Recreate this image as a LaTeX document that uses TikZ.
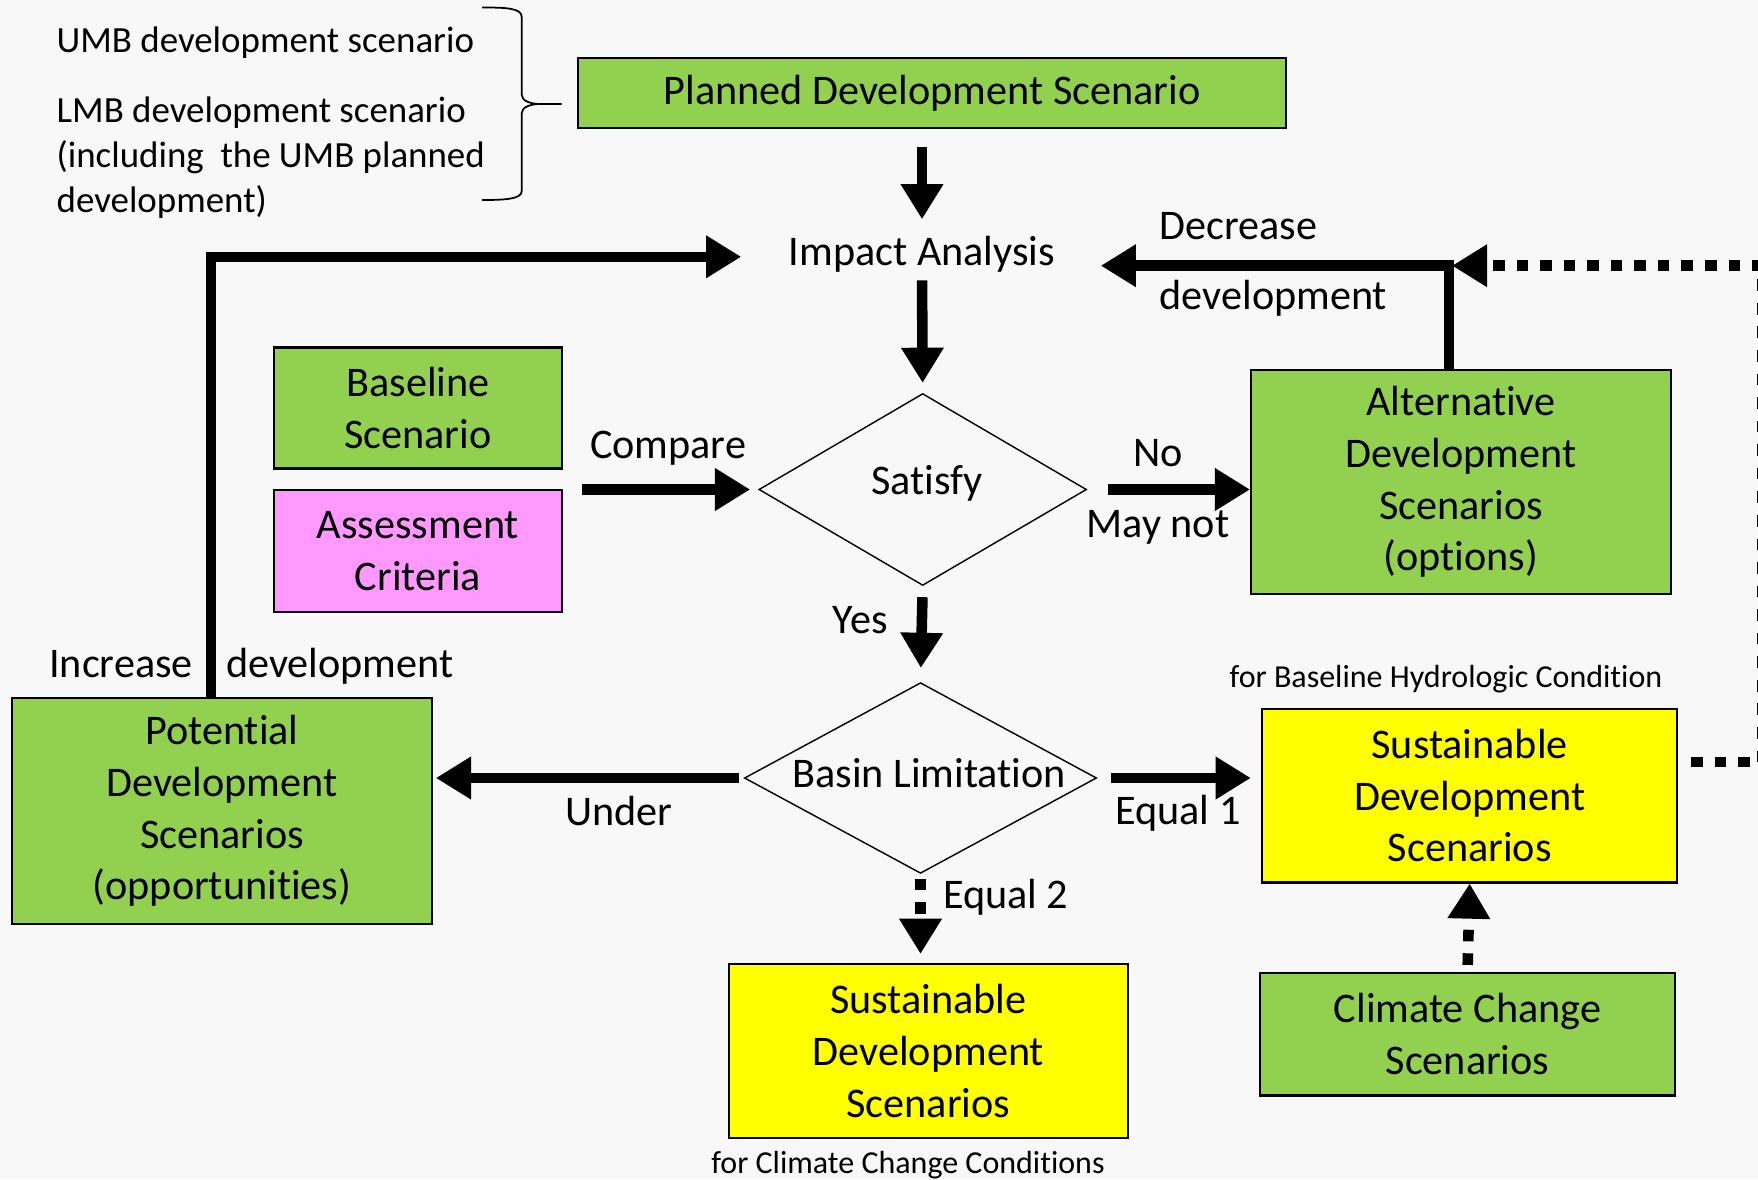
\documentclass[tikz,border=0pt]{standalone}
\usepackage{fontspec}
\setmainfont{Carlito}[Ligatures={NoCommon,NoContextual},RawFeature={-clig}]
\usetikzlibrary{arrows.meta,shapes.geometric}
\definecolor{boxgreen}{HTML}{92D050}
\definecolor{boxpink}{HTML}{FF99FF}
\definecolor{boxyellow}{HTML}{FFFF00}
\definecolor{paper}{HTML}{F8F8F8}

\begin{document}
\begin{tikzpicture}[x=0.01cm,y=-0.01cm,
  box/.style={draw=black,line width=0.6pt,inner sep=0pt,align=center,font=\fontsize{12}{14.7}\selectfont},
  greenbox/.style={box,fill=boxgreen},
  yellowbox/.style={box,fill=boxyellow},
  pinkbox/.style={box,fill=boxpink},
  decide/.style={diamond,draw=black,line width=0.4pt,inner sep=0pt,font=\fontsize{12}{14.7}\selectfont},
  lbl/.style={inner sep=0pt,text height=9pt,text depth=2.5pt,font=\fontsize{12}{14.7}\selectfont},
  side/.style={inner sep=0pt,font=\fontsize{10.5}{12.8}\selectfont},
  note/.style={inner sep=0pt,font=\fontsize{9.1}{11}\selectfont},
  arr/.style={line width=3pt,-{Triangle[length=10pt,width=11.5pt]}},
  dotarr/.style={arr,dash pattern=on 3.3pt off 3.4pt}]
\path[use as bounding box,fill=paper] (0,0) rectangle (1758,1179);

\node[side,anchor=west] (umb) at (56,43) {UMB development scenario};
\node[side,anchor=west,align=left] (lmb) at (56,158) {LMB development scenario\\(including\ \ the UMB planned\\development)};
\draw[line width=0.5pt] (482,7.5) .. controls (506,7.5) and (521.7,8) .. (521.7,17) -- (521.7,95)
  .. controls (521.7,101) and (531,104) .. (540,104) -- (561.7,104)
  (540,104) .. controls (531,104) and (521.7,107) .. (521.7,113) -- (521.7,191)
  .. controls (521.7,199) and (506,200) .. (482,200);

\node[greenbox,minimum width=7.075cm,minimum height=0.695cm] (plan) at (932,93) {Planned Development Scenario};
\node[lbl] (impact) at (922,254.5) {Impact Analysis};
\node[decide,minimum width=3.275cm,minimum height=1.918cm] (satisfy) at (922.7,489.5) {\makebox[0pt]{\hspace*{2.6pt}\raisebox{5.4pt}{Satisfy}}};
\node[greenbox,minimum width=2.87cm,minimum height=1.21cm] (base) at (418,408) {Baseline\\Scenario};
\node[pinkbox,minimum width=2.87cm,minimum height=1.22cm] (assess) at (418,551) {Assessment\\Criteria};
\node[greenbox,minimum width=4.196cm,minimum height=2.24cm] (alt) at (1461,482) {Alternative\\Development\\Scenarios\\(options)};
\node[greenbox,minimum width=4.194cm,minimum height=2.255cm] (pot) at (222,811) {Potential\\Development\\Scenarios\\(opportunities)};
\node[decide,minimum width=3.52cm,minimum height=1.906cm] (basin) at (920.5,778) {\makebox[0pt]{\hspace*{5pt}\raisebox{2.6pt}{Basin Limitation}}};
\node[yellowbox,minimum width=4.145cm,minimum height=1.738cm] (sus1) at (1469.7,795.5) {Sustainable\\Development\\Scenarios};
\node[greenbox,minimum width=4.15cm,minimum height=1.224cm] (climate) at (1467.5,1034.2) {Climate Change\\Scenarios};
\node[yellowbox,minimum width=3.992cm,minimum height=1.74cm] (sus2) at (928.4,1051) {Sustainable\\Development\\Scenarios};

\node[note] (forbase) at (1446,679.4) {for Baseline Hydrologic Condition};
\node[note] (forclim) at (908,1165) {for Climate Change Conditions};
\node[lbl] (cmp) at (668,447) {Compare};
\node[lbl] (no) at (1158,455) {No};
\node[lbl] (maynot) at (1158,526) {May not};
\node[lbl,anchor=west] (decr) at (1159,227.6) {Decrease};
\node[lbl,anchor=west] (decdev) at (1159,298) {development};
\node[lbl] (yes) at (860,622) {Yes};
\node[lbl] (under) at (619,814) {Under};
\node[lbl] (eq1) at (1178,813) {Equal 1};
\node[lbl] (eq2) at (1005.7,897) {Equal 2};
\node[lbl] (incr) at (121,666) {Increase};
\node[lbl] (incdev) at (339.7,666) {development};

\coordinate (jn) at (1449,265.7);
\coordinate (rt) at (1762,762);
\coordinate (inc) at (210.8,256.8);

\draw[arr,shorten <=0.18cm,shorten >=0.143cm] (plan.south -| impact) -- (impact.north);
\draw[arr,shorten <=0.05cm,shorten >=0.1cm] (impact.south) -- (satisfy.north);
\draw[arr,shorten <=0.19cm,shorten >=0.08cm] (satisfy.west -| base.east) -- (satisfy.west);
\draw[arr,shorten <=0.21cm] (satisfy.east) -- (satisfy.east -| alt.west);
\draw[arr,shorten >=0.45cm] (alt.north -| jn) -- (jn) -- (jn -| impact.east);
\draw[dotarr,shorten <=0.13cm,shorten >=0.03cm] (sus1.east |- rt) -- (rt) |- (jn);
\draw[arr,shorten >=0.47cm] (pot.north -| inc) -- (inc) -- (inc -| impact.west);
\draw[arr,shorten <=0.11cm,shorten >=0.14cm] (satisfy.south) -- (basin.north);
\draw[arr,shorten <=0.045cm,shorten >=0.03cm] (basin.west) -- (basin.west -| pot.east);
\draw[arr,shorten <=0.135cm,shorten >=0.105cm] (basin.east) -- (basin.east -| sus1.west);
\draw[dotarr,shorten <=0.046cm,shorten >=0.09cm] (basin.south) -- (basin.south |- sus2.north);
\draw[dotarr,shorten <=0.07cm] (climate.north) -- (sus1.south);
\end{tikzpicture}
\end{document}
